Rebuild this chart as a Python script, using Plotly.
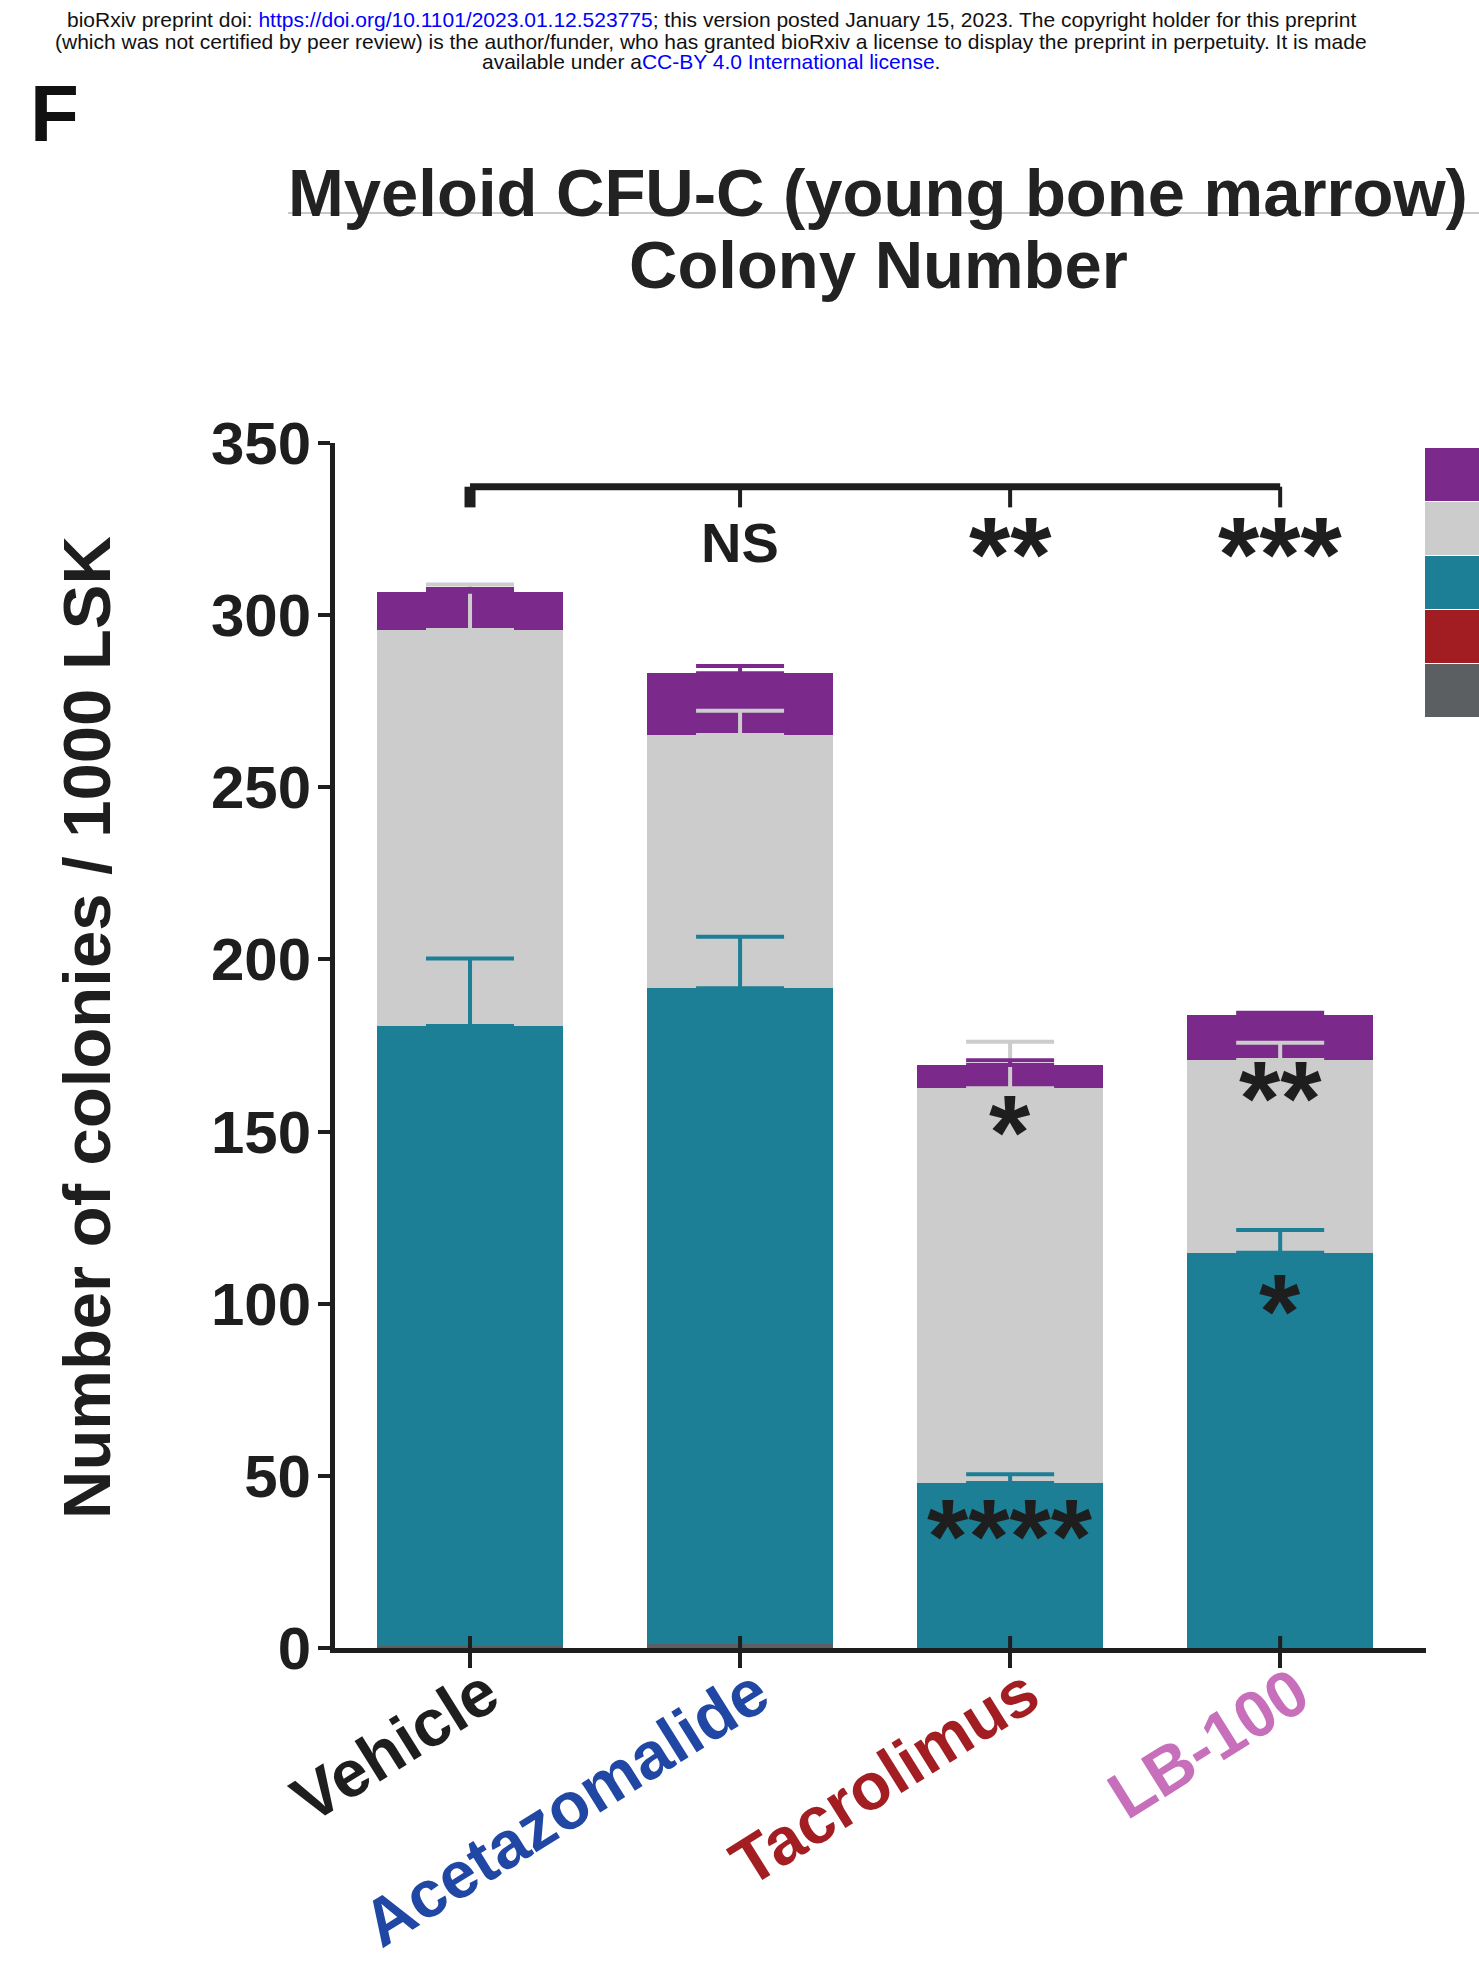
import plotly.graph_objects as go

# ---- data -------------------------------------------------------------
groups = ["Vehicle", "Acetazomalide", "Tacrolimus", "LB-100"]
group_colors = ["#1e1e1e", "#1f47a3", "#a31e22", "#c76fba"]

# colony types, listed from the bottom of each stack upwards
dark_vals = [0.7, 1.3, 0.0, 0.0]
red_vals = [0.0, 0.0, 0.0, 0.0]
teal_vals = [180.0, 190.3, 47.9, 114.8]
teal_err = [19.6, 15.0, 2.6, 6.6]
grey_vals = [115.0, 73.6, 114.7, 56.0]
grey_err = [13.2, 7.0, 13.5, 5.0]
purple_vals = [11.1, 17.9, 6.7, 13.1]
purple_err = [0.8, 2.1, 1.4, 0.6]

yticks = [0, 50, 100, 150, 200, 250, 300, 350]

# comparison of every treatment against Vehicle (total colonies)
bracket_level = 337.3
bracket_drop = 6.0
overall_labels = ["", "NS", "**", "***"]
overall_label_y = 321.0

# per colony-type significance marks: (group index, text, y)
inner_marks = [
    (2, "*", 153.0),
    (2, "****", 35.6),
    (3, "**", 163.0),
    (3, "*", 101.0),
]

# ---- geometry / style -------------------------------------------------
W, H = 1479, 1961
ML, MR, MT, MB = 335, 53, 443, 313
PW = W - ML - MR
PH = H - MT - MB
YMAX = 350.0
UNIT = PH / YMAX          # pixels per colony


def px(x):
    return (x - ML) / PW


def py(y):
    return (H - MB - y) / PH


FONT = "Liberation Sans, Arial, Helvetica, sans-serif"
INK = "#1e1e1e"

series = [
    ("BFU-E", dark_vals, None, "#5b5f61"),
    ("CFU-G", red_vals, None, "#a11d21"),
    ("CFU-M", teal_vals, teal_err, "#1d7f95"),
    ("CFU-GM", grey_vals, grey_err, "#cccccc"),
    ("CFU-GEMM", purple_vals, purple_err, "#7b2a8c"),
]

xpos = list(range(len(groups)))

fig = go.Figure()

for name, vals, err, color in series:
    fig.add_trace(go.Bar(
        x=xpos, y=vals, name=name, width=0.69,
        marker=dict(color=color, line=dict(width=0)),
        showlegend=False, hoverinfo="skip",
    ))

# SEM whiskers at the top of each segment, drawn above every bar
running = [0.0] * len(groups)
for name, vals, err, color in series:
    running = [r + v for r, v in zip(running, vals)]
    if err is None:
        continue
    fig.add_trace(go.Scatter(
        x=xpos, y=running, mode="markers",
        marker=dict(size=1, opacity=0),
        error_y=dict(type="data", symmetric=False, array=err,
                     arrayminus=[0] * len(err), color=color,
                     thickness=4, width=44),
        showlegend=False, hoverinfo="skip",
    ))

ticktext = [f'<span style="color:{c}">{g}</span>' for g, c in zip(groups, group_colors)]

fig.update_layout(
    width=W, height=H,
    margin=dict(l=ML, r=MR, t=MT, b=MB, autoexpand=False),
    barmode="stack",
    plot_bgcolor="white", paper_bgcolor="white",
    showlegend=False,
    font=dict(family=FONT, color=INK),
    xaxis=dict(
        range=[-0.5, 3.54], tickmode="array", tickvals=xpos, ticktext=ticktext,
        tickangle=-32, tickfont=dict(size=66, family=FONT, weight="bold"),
        ticklabelstandoff=-38, ticklabelshift=16,
        showline=True, linewidth=5, linecolor=INK,
        ticks="outside", ticklen=15, tickwidth=4, tickcolor=INK,
        showgrid=False, zeroline=False, fixedrange=True,
    ),
    yaxis=dict(
        range=[0, YMAX], tickmode="array", tickvals=yticks,
        tickfont=dict(size=60, family=FONT, weight="bold", color=INK),
        showline=True, linewidth=5, linecolor=INK,
        ticks="outside", ticklen=12, tickwidth=4, tickcolor=INK,
        ticklabelstandoff=-5,
        showgrid=False, zeroline=False, fixedrange=True,
    ),
)

shapes = []
# inner half of the category ticks
for i in xpos:
    shapes.append(dict(type="line", xref="x", yref="y", x0=i, x1=i,
                       y0=0, y1=12 / UNIT, line=dict(color=INK, width=4)))

# comparison bracket
shapes.append(dict(type="line", xref="x", yref="y", x0=xpos[0], x1=xpos[-1],
                   y0=bracket_level, y1=bracket_level,
                   line=dict(color=INK, width=7)))
shapes.append(dict(type="line", xref="x", yref="y", x0=xpos[0], x1=xpos[0],
                   y0=bracket_level - bracket_drop, y1=bracket_level,
                   line=dict(color=INK, width=11)))
for i in xpos[1:]:
    shapes.append(dict(type="line", xref="x", yref="y", x0=i, x1=i,
                       y0=bracket_level - bracket_drop, y1=bracket_level,
                       line=dict(color=INK, width=4)))

# colour key swatches at the right edge
key_tops = [448, 502, 556, 610, 664, 718]
for k, (name, vals, err, color) in enumerate(reversed(series)):
    shapes.append(dict(type="rect", xref="paper", yref="paper",
                       x0=px(1425), x1=px(1500),
                       y0=py(key_tops[k + 1] - 1), y1=py(key_tops[k]),
                       fillcolor=color, line=dict(width=0), layer="above"))

# thin rule under the first title line
shapes.append(dict(type="line", xref="paper", yref="paper",
                   x0=px(288), x1=px(1479), y0=py(213), y1=py(213),
                   line=dict(color="#c8c8c8", width=2)))

fig.update_layout(shapes=shapes)

ann = []
STAR = 106
STAR_SHIFT = -11
# labels over the bracket
for i, t in zip(xpos, overall_labels):
    if not t:
        continue
    if "*" in t:
        ann.append(dict(x=i, y=overall_label_y, xref="x", yref="y", text=t,
                        showarrow=False, yshift=STAR_SHIFT,
                        font=dict(size=STAR, family=FONT, weight="bold", color=INK)))
    else:
        ann.append(dict(x=i, y=overall_label_y, xref="x", yref="y", text=t,
                        showarrow=False,
                        font=dict(size=56, family=FONT, weight="bold", color=INK)))
for i, t, yv in inner_marks:
    ann.append(dict(x=i, y=yv, xref="x", yref="y", text=t, showarrow=False,
                    yshift=STAR_SHIFT,
                    font=dict(size=STAR, family=FONT, weight="bold", color=INK)))

# titles
ann.append(dict(x=px(878), y=py(192), xref="paper", yref="paper",
                text="Myeloid CFU-C (young bone marrow)", showarrow=False,
                xanchor="center", yanchor="middle",
                font=dict(size=67, family=FONT, weight="bold", color="#222222")))
ann.append(dict(x=px(878), y=py(264), xref="paper", yref="paper",
                text="Colony Number", showarrow=False,
                xanchor="center", yanchor="middle",
                font=dict(size=67, family=FONT, weight="bold", color="#222222")))
ann.append(dict(x=px(86), y=py(1028), xref="paper", yref="paper",
                text="Number of colonies / 1000 LSK", showarrow=False,
                textangle=-90, xanchor="center", yanchor="middle",
                font=dict(size=67, family=FONT, weight="bold", color=INK)))
ann.append(dict(x=px(28), y=py(113), xref="paper", yref="paper",
                text="F", showarrow=False, xanchor="left", yanchor="middle",
                font=dict(size=80, family=FONT, weight="bold", color="#111111")))

# preprint header
LINK = "#0000ff"
header = [
    ('bioRxiv preprint doi: <span style="color:%s">https://doi.org/10.1101/2023.01.12.523775</span>;'
     ' this version posted January 15, 2023. The copyright holder for this preprint' % LINK, 20),
    ('(which was not certified by peer review) is the author/funder, who has granted bioRxiv a'
     ' license to display the preprint in perpetuity. It is made', 41),
    ('available under a<span style="color:%s">CC-BY 4.0 International license</span>.' % LINK, 61),
]
for text, yy in header:
    ann.append(dict(x=px(711), y=py(yy), xref="paper", yref="paper", text=text,
                    showarrow=False, xanchor="center", yanchor="middle",
                    font=dict(size=21, family=FONT, color="#111111")))

fig.update_layout(annotations=ann)

fig.write_html("out.html")
